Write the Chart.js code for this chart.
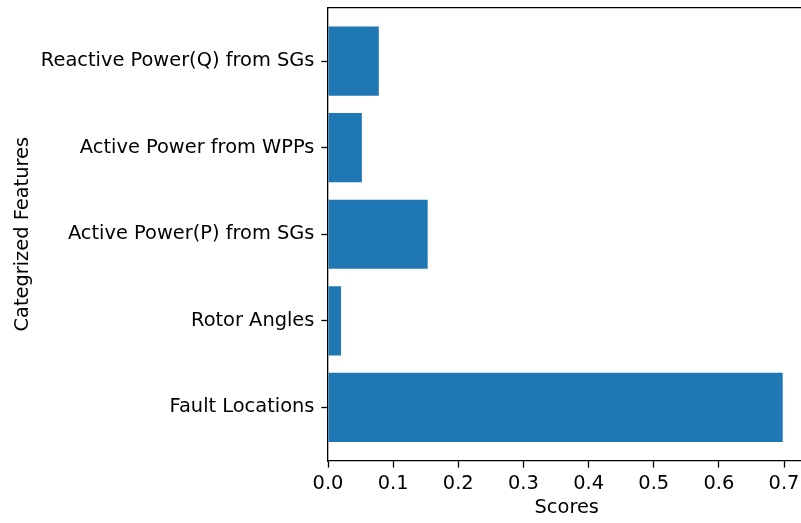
<!DOCTYPE html>
<html>
<head>
<meta charset="utf-8">
<script src="https://cdn.jsdelivr.net/npm/chart.js@4"></script>
<style>
  html, body { margin: 0; padding: 0; background: #fff; overflow: hidden; }
  #chart { display: block; }
</style>
</head>
<body>
<canvas id="chart" width="806" height="523" style="width:806px;height:523px"></canvas>
<script>
// features from bottom to top, like barh
const features = ['Fault Locations', 'Rotor Angles', 'Active Power(P) from SGs', 'Active Power from WPPs', 'Reactive Power(Q) from SGs']
const scores = [0.698, 0.02, 0.153, 0.052, 0.078]
const xTicks = [0, 0.1, 0.2, 0.3, 0.4, 0.5, 0.6, 0.7]

const fontFamily = "'DejaVu Sans', sans-serif"
const fontSize = 19.4
const barColor = '#1f77b4'

const points = features.map((f, i) => ({ x: scores[i], y: i }))

const ctx = document.getElementById('chart').getContext('2d')

const config = {
    type: 'bar',
    data: {
        datasets: [{
            label: 'Scores',
            data: points,
            backgroundColor: barColor,
            borderWidth: 0,
            barPercentage: 0.8,
            categoryPercentage: 1.0
        }]
    },
    options: {
        indexAxis: 'y',
        responsive: false,
        animation: false,
        layout: { padding: { top: 0, right: 0.5, left: 0, bottom: 0 } },
        plugins: {
            legend: { display: false },
            tooltip: { enabled: false }
        },
        scales: {
            x: {
                type: 'linear',
                position: 'bottom',
                min: 0,
                max: 0.733,
                afterFit: (scale) => {
                    scale.height = 62
                    scale.paddingLeft = 0
                    scale.paddingRight = 0
                },
                ticks: {
                    stepSize: 0.1,
                    includeBounds: false,
                    color: '#000',
                    padding: 5,
                    maxRotation: 0,
                    font: { family: fontFamily, size: fontSize },
                    callback: (v) => xTicks.some(t => Math.abs(t - v) < 1e-6) ? v.toFixed(1) : ''
                },
                grid: {
                    display: true,
                    drawOnChartArea: false,
                    drawTicks: true,
                    tickLength: 6.6,
                    tickColor: '#000',
                    tickWidth: 1.3
                },
                border: { display: true, color: '#000', width: 1.3 },
                title: {
                    display: true,
                    text: 'Scores',
                    color: '#000',
                    font: { family: fontFamily, size: fontSize },
                    padding: { top: 0, bottom: 3.6 }
                }
            },
            x2: {
                type: 'linear',
                position: 'top',
                min: 0,
                max: 0.733,
                afterFit: (scale) => {
                    scale.height = 7.5
                    scale.paddingLeft = 0
                    scale.paddingRight = 0
                },
                ticks: { display: false },
                grid: { display: false, drawTicks: false },
                border: { display: true, color: '#000', width: 1.3 }
            },
            y: {
                type: 'linear',
                position: 'left',
                min: -0.62,
                max: 4.62,
                offset: false,
                afterFit: (scale) => {
                    scale.width = 328
                    scale.paddingTop = 0
                    scale.paddingBottom = 0
                },
                ticks: {
                    stepSize: 1,
                    includeBounds: false,
                    color: '#000',
                    padding: 7,
                    font: { family: fontFamily, size: fontSize },
                    callback: (v) => Number.isInteger(v) ? features[v] : ''
                },
                grid: {
                    display: true,
                    offset: false,
                    drawOnChartArea: false,
                    drawTicks: true,
                    tickLength: 6.6,
                    tickColor: '#000',
                    tickWidth: 1.3
                },
                border: { display: true, color: '#000', width: 1.3 },
                title: {
                    display: true,
                    text: 'Categrized Features',
                    color: '#000',
                    font: { family: fontFamily, size: fontSize },
                    padding: { top: 11.6, bottom: 0 }
                }
            }
        }
    }
}

const myChart = new Chart(ctx, config)
</script>
</body>
</html>
